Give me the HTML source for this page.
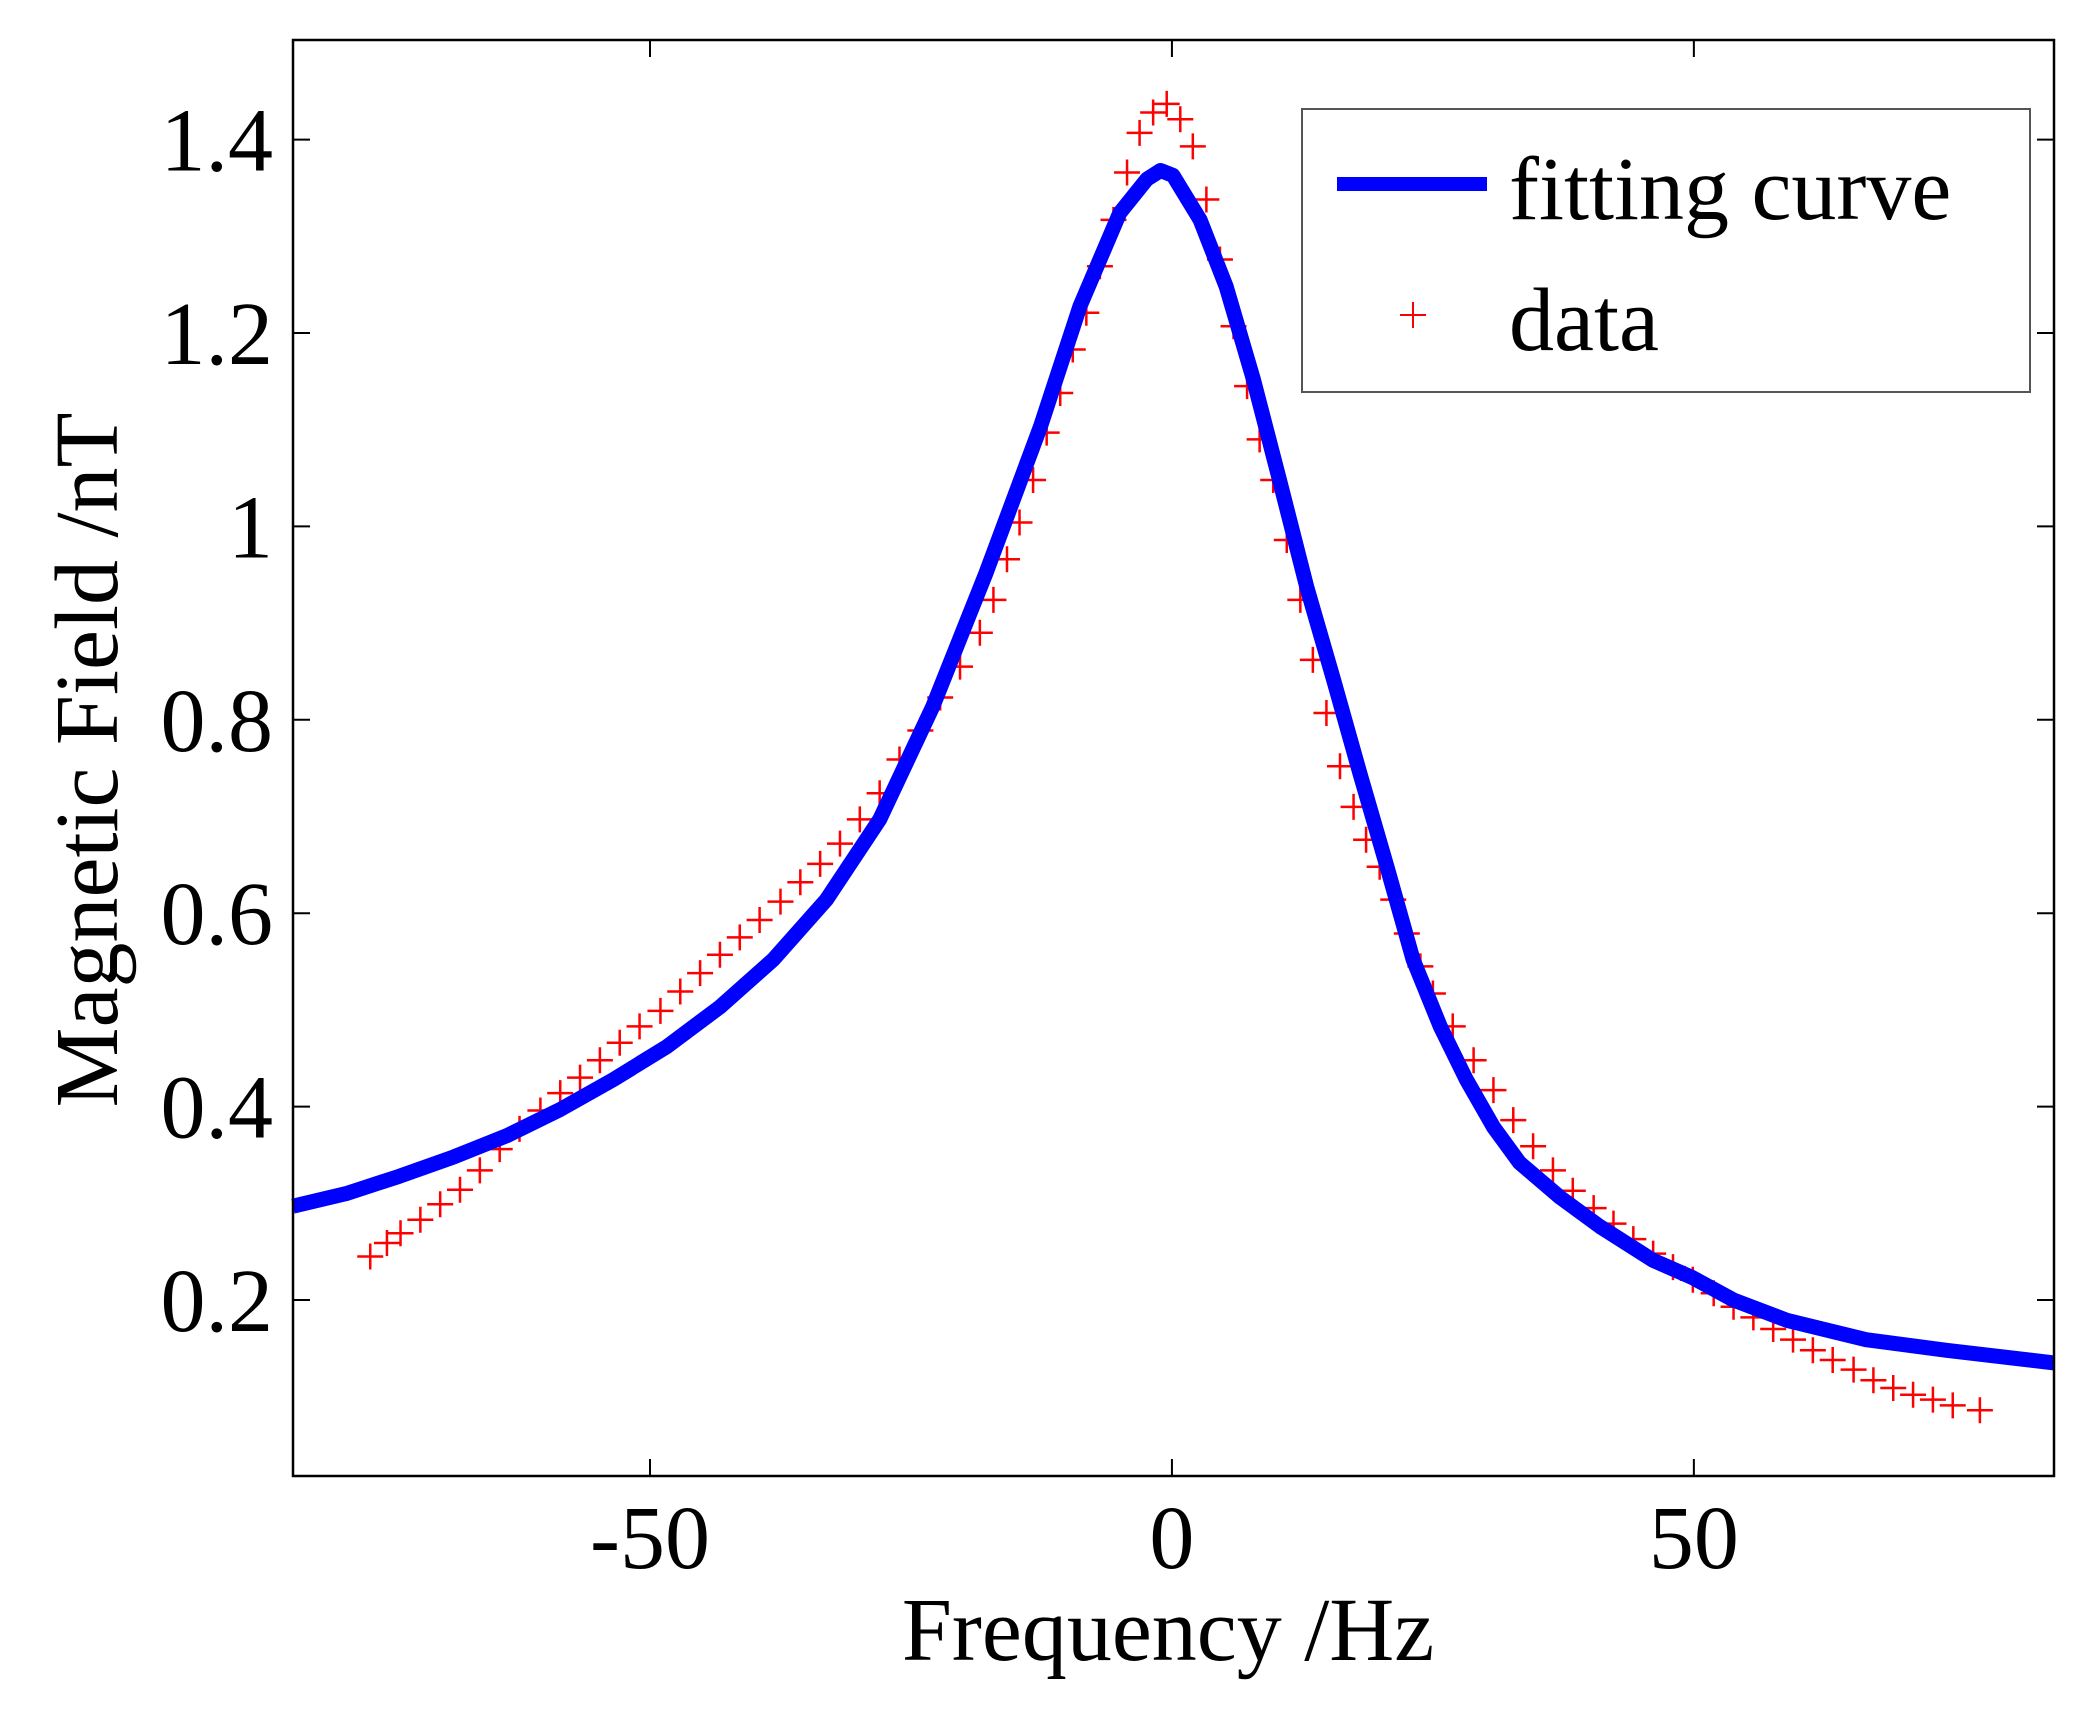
<!DOCTYPE html>
<html><head><meta charset="utf-8"><style>
html,body{margin:0;padding:0;background:#fff}
svg text{font-family:"Liberation Serif",serif;fill:#000}
</style></head><body>
<svg id="chart" width="2090" height="1713" xmlns="http://www.w3.org/2000/svg">
<rect width="2090" height="1713" fill="#fff"/>
<g id="marks"></g>
<g id="axes"></g>
</svg>
<script>
const xTicks=[-50,0,50];
const xTickLabels=["-50","0","50"];
const yTicks=[0.2,0.4,0.6,0.8,1,1.2,1.4];
const yTickLabels=["0.2","0.4","0.6","0.8","1","1.2","1.4"];
const fitFreq=[-84.2,-79.1,-74.0,-68.8,-63.7,-58.6,-53.5,-48.4,-43.3,-38.2,-33.1,-28.0,-22.9,-17.8,-12.6,-8.8,-5.0,-2.4,-1.1,0.1,2.7,5.2,7.8,10.3,12.9,15.5,18.0,20.6,23.1,25.7,28.2,30.8,33.3,37.2,41.0,46.1,49.9,53.8,58.9,66.5,74.2,84.5];
const fitField=[0.297,0.310,0.328,0.348,0.370,0.397,0.428,0.462,0.503,0.552,0.614,0.697,0.814,0.952,1.103,1.228,1.324,1.359,1.368,1.363,1.317,1.248,1.152,1.048,0.938,0.841,0.745,0.648,0.552,0.483,0.428,0.379,0.342,0.306,0.276,0.241,0.223,0.200,0.179,0.159,0.148,0.135];
const dataFreq=[-76.8,-75.2,-73.9,-72.0,-70.1,-68.2,-66.3,-64.4,-62.5,-60.5,-58.6,-56.7,-54.8,-52.9,-51.0,-49.0,-47.1,-45.2,-43.3,-41.4,-39.5,-37.5,-35.6,-33.7,-31.8,-29.9,-28.0,-26.1,-24.1,-22.2,-20.3,-18.4,-17.1,-15.8,-14.6,-13.3,-12.0,-10.7,-9.5,-8.2,-6.9,-5.6,-4.3,-3.1,-1.8,-0.5,0.8,2.0,3.3,4.6,5.9,7.2,8.4,9.7,11.0,12.3,13.5,14.8,16.1,17.4,18.6,19.9,21.2,22.5,23.8,25.0,26.9,28.9,30.8,32.7,34.6,36.5,38.4,40.4,42.3,44.2,46.1,48.0,49.9,51.9,53.8,55.7,57.6,59.5,61.4,63.3,65.3,67.2,69.1,71.0,72.9,74.8,77.4];
const dataField=[0.245,0.259,0.269,0.283,0.299,0.314,0.334,0.356,0.377,0.396,0.414,0.430,0.448,0.466,0.483,0.499,0.519,0.538,0.557,0.575,0.593,0.612,0.632,0.651,0.672,0.697,0.724,0.759,0.789,0.823,0.855,0.890,0.924,0.966,1.004,1.048,1.097,1.138,1.183,1.221,1.269,1.317,1.366,1.407,1.428,1.437,1.421,1.393,1.338,1.276,1.207,1.145,1.090,1.048,0.986,0.924,0.862,0.807,0.752,0.710,0.676,0.648,0.614,0.579,0.545,0.517,0.483,0.448,0.417,0.386,0.359,0.334,0.313,0.295,0.279,0.263,0.248,0.234,0.221,0.207,0.193,0.182,0.170,0.159,0.148,0.138,0.128,0.117,0.109,0.102,0.097,0.091,0.086];

const L=293,R=2054,T=40,B=1476;
const XMIN=-84.2,XMAX=84.5,YMIN=0.018,YMAX=1.503;
const sx=v=>L+(v-XMIN)/(XMAX-XMIN)*(R-L);
const sy=v=>B-(v-YMIN)/(YMAX-YMIN)*(B-T);
const NS="http://www.w3.org/2000/svg";
function mk(tag,attrs,parent){const e=document.createElementNS(NS,tag);for(const k in attrs)e.setAttribute(k,attrs[k]);parent.appendChild(e);return e;}
const marks=document.getElementById('marks'),axes=document.getElementById('axes');

const dg=mk('g',{stroke:'#ff0000','stroke-width':2.5,fill:'none'},marks);


const S=13;
for(let i=0;i<dataFreq.length;i++){
  const x=sx(dataFreq[i]),y=sy(dataField[i]);
  const p=mk('path',{d:`M${x-S},${y}H${x+S}M${x},${y-S}V${y+S}`},dg);
  
  
}
let d='';
for(let i=0;i<fitFreq.length;i++)d+=(i?'L':'M')+sx(fitFreq[i]).toFixed(1)+','+sy(fitField[i]).toFixed(1);
const fc=mk('path',{d:d,stroke:'#0000ff','stroke-width':15,fill:'none','stroke-linejoin':'round'},marks);



const box=mk('rect',{x:L,y:T,width:R-L,height:B-T,fill:'none',stroke:'#000','stroke-width':2.5},axes);


const TK=17;
xTicks.forEach((v,i)=>{
  const x=sx(v);
  const t=mk('path',{d:`M${x},${B}V${B-TK}M${x},${T}V${T+TK}`,stroke:'#000','stroke-width':2},axes);
  
  
  const lb=mk('text',{x:x,y:1568,'text-anchor':'middle','font-size':90},axes);
  lb.textContent=xTickLabels[i];
  
  
});
yTicks.forEach((v,i)=>{
  const y=sy(v);
  const t=mk('path',{d:`M${L},${y}H${L+TK}M${R},${y}H${R-TK}`,stroke:'#000','stroke-width':2},axes);
  
  
  const lb=mk('text',{x:273,y:y+31,'text-anchor':'end','font-size':90},axes);
  lb.textContent=yTickLabels[i];
  
  
});
const xt=mk('text',{x:1168,y:1660,'text-anchor':'middle','font-size':90},axes);
xt.textContent='Frequency /Hz';


const yt=mk('text',{x:0,y:0,'text-anchor':'middle','font-size':90,transform:'translate(117,760) rotate(-90)'},axes);
yt.textContent='Magnetic Field /nT';



const lg=mk('g',{},axes);


mk('rect',{x:1302,y:109,width:728,height:283,fill:'#fff',stroke:'#555','stroke-width':2},lg);
const l1=mk('path',{d:'M1337,184H1487',stroke:'#0000ff','stroke-width':14},lg);


const t1=mk('text',{x:1509,y:219,'font-size':90},lg);
t1.textContent='fitting curve';


const l2=mk('path',{d:'M1400,315H1426M1413,302V328',stroke:'#ff0000','stroke-width':2},lg);


const t2=mk('text',{x:1509,y:350,'font-size':90},lg);
t2.textContent='data';


</script>
</body></html>
